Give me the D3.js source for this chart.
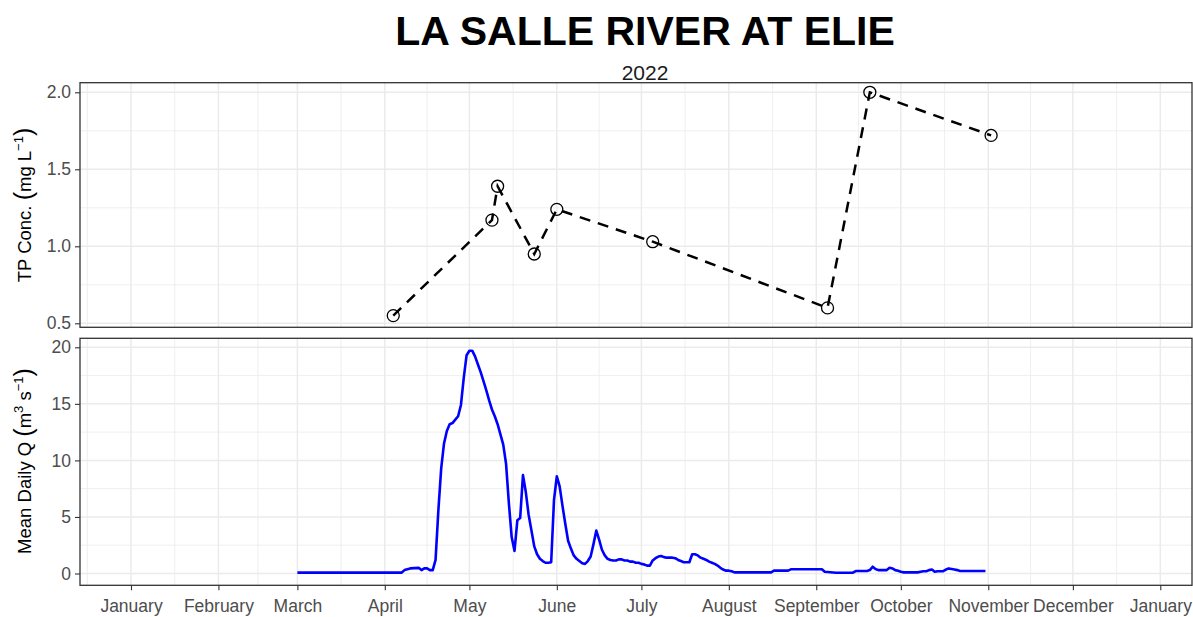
<!DOCTYPE html>
<html>
<head>
<meta charset="utf-8">
<script src="https://cdn.jsdelivr.net/npm/d3@7"></script>
<style>
  body { margin: 0; background: #fff; }
  svg { display: block; font-family: "Liberation Sans", Arial, sans-serif; }
</style>
</head>
<body>
<svg id="chart" width="1193" height="617"></svg>
<script>
// month breaks on the shared date axis
const monthBreaks = ['2022-01-01', '2022-02-01', '2022-03-01', '2022-04-01', '2022-05-01', '2022-06-01',
  '2022-07-01', '2022-08-01', '2022-09-01', '2022-10-01', '2022-11-01', '2022-12-01', '2023-01-01'];

// TP grab samples
const tpDates = ['2022-04-04', '2022-05-09', '2022-05-11', '2022-05-24', '2022-06-01',
  '2022-07-05', '2022-09-05', '2022-09-20', '2022-11-02'];
const tpConc = [0.55, 1.17, 1.39, 0.95, 1.24, 1.03, 0.60, 2.00, 1.72];
const tpTicks = [0.5, 1.0, 1.5, 2.0];
const tpMinor = [0.75, 1.25, 1.75];

// mean daily discharge
const flowDays = ['03-01', '04-07', '04-08', '04-10', '04-13', '04-14', '04-15', '04-16', '04-17', '04-18',
  '04-19', '04-20', '04-21', '04-22', '04-23', '04-24', '04-25', '04-26', '04-27', '04-28', '04-29', '04-30',
  '05-01', '05-02', '05-03', '05-04', '05-05', '05-06', '05-07', '05-08', '05-09', '05-10', '05-11', '05-12',
  '05-13', '05-14', '05-15', '05-16', '05-17', '05-18', '05-19', '05-20', '05-21', '05-22', '05-23', '05-24',
  '05-25', '05-26', '05-27', '05-28', '05-29', '05-30', '05-31', '06-01', '06-02', '06-03', '06-04', '06-05',
  '06-06', '06-07', '06-08', '06-09', '06-10', '06-11', '06-12', '06-13', '06-14', '06-15', '06-16', '06-17',
  '06-18', '06-19', '06-20', '06-21', '06-22', '06-23', '06-24', '06-25', '06-26', '06-27', '06-28', '06-29',
  '06-30', '07-01', '07-02', '07-03', '07-04', '07-05', '07-06', '07-07', '07-08', '07-09', '07-10', '07-11',
  '07-12', '07-13', '07-14', '07-15', '07-16', '07-17', '07-18', '07-19', '07-20', '07-21', '07-22', '07-23',
  '07-24', '07-25', '07-26', '07-27', '07-28', '07-29', '07-30', '07-31', '08-01', '08-02', '08-03', '08-16',
  '08-17', '08-22', '08-23', '09-03', '09-04', '09-08', '09-14', '09-15', '09-19', '09-20', '09-21', '09-22',
  '09-23', '09-26', '09-27', '09-28', '09-29', '09-30', '10-01', '10-02', '10-07', '10-08', '10-09', '10-10',
  '10-11', '10-12', '10-13', '10-14', '10-16', '10-17', '10-18', '10-19', '10-20', '10-21', '10-22', '10-31'];
const flowQ = [0.08, 0.08, 0.3, 0.45, 0.5, 0.3, 0.45, 0.45, 0.3, 0.3,
  1.2, 5.6, 9.3, 11.5, 12.6, 13.2, 13.3, 13.6, 13.9, 14.9, 17.3, 19.3,
  19.7, 19.7, 19.2, 18.5, 17.8, 17.0, 16.2, 15.3, 14.5, 13.9, 13.2, 12.3,
  11.4, 9.7, 6.2, 3.2, 2.0, 4.7, 4.9, 8.7, 7.2, 5.2, 3.8, 2.4,
  1.7, 1.3, 1.1, 0.95, 0.95, 1.0, 6.5, 8.6, 7.7, 6.0, 4.4, 2.9,
  2.2, 1.6, 1.3, 1.1, 0.9, 0.85, 1.1, 1.5, 2.6, 3.8, 3.0, 2.1,
  1.6, 1.3, 1.2, 1.15, 1.15, 1.25, 1.25, 1.15, 1.15, 1.05, 1.05, 0.95,
  0.95, 0.85, 0.8, 0.7, 0.7, 1.15, 1.35, 1.5, 1.55, 1.45, 1.4, 1.4,
  1.4, 1.35, 1.2, 1.1, 1.0, 1.0, 1.0, 1.7, 1.7, 1.6, 1.4, 1.3,
  1.2, 1.05, 0.95, 0.85, 0.7, 0.5, 0.35, 0.25, 0.25, 0.2, 0.1, 0.1,
  0.25, 0.25, 0.37, 0.37, 0.15, 0.07, 0.07, 0.22, 0.22, 0.3, 0.6, 0.4,
  0.3, 0.3, 0.5, 0.45, 0.3, 0.25, 0.15, 0.1, 0.1, 0.15, 0.2, 0.2,
  0.3, 0.35, 0.15, 0.2, 0.2, 0.35, 0.45, 0.4, 0.35, 0.3, 0.22, 0.22];
const qTicks = [0, 5, 10, 15, 20];
const qMinor = [2.5, 7.5, 12.5, 17.5];

const parse = d3.utcParse('%Y-%m-%d');
const tpData = tpDates.map((d, i) => ({ date: parse(d), value: tpConc[i] }));
const flowData = flowDays.map((d, i) => ({ date: parse('2022-' + d), value: flowQ[i] }));
const breaks = monthBreaks.map(parse);

// layout
const panelLeft = 80, panelRight = 1192;
const top1 = 82.7, bottom1 = 327.3;
const top2 = 338.3, bottom2 = 585.3;
const gridCol = '#EBEBEB', inkCol = '#333333', tickTextCol = '#4D4D4D';

const x = d3.scaleUtc().domain([breaks[0], breaks[breaks.length - 1]]).range([131, 1160.3]);
const yTP = d3.scaleLinear().domain([0.5, 2.0]).range([323.3, 92.3]);
const yQ = d3.scaleLinear().domain([0, 20]).range([573.5, 347.3]);

// minor breaks sit halfway between the monthly ones (incl. Dec 2021)
const allBreaks = [d3.utcMonth.offset(breaks[0], -1), ...breaks];
const minorX = d3.pairs(allBreaks).map(([a, b]) => (x(a) + x(b)) / 2);

const svg = d3.select('#chart');

// Title + subtitle
svg.append('text')
  .attr('x', 645).attr('y', 45)
  .attr('text-anchor', 'middle')
  .style('font-size', '41px').style('font-weight', 'bold')
  .text('LA SALLE RIVER AT ELIE');
svg.append('text')
  .attr('x', 645).attr('y', 79.5)
  .attr('text-anchor', 'middle')
  .style('font-size', '21px').attr('fill', '#1a1a1a')
  .text('2022');

function drawPanel(y, top, bottom, majors, minors) {
  const g = svg.append('g');
  // minor grid
  minors.forEach(v => g.append('line')
    .attr('x1', panelLeft).attr('x2', panelRight).attr('y1', y(v)).attr('y2', y(v))
    .attr('stroke', gridCol).attr('stroke-width', 0.8));
  minorX.filter(v => v > panelLeft && v < panelRight).forEach(v => g.append('line')
    .attr('x1', v).attr('x2', v).attr('y1', top).attr('y2', bottom)
    .attr('stroke', gridCol).attr('stroke-width', 0.8));
  // major grid
  majors.forEach(v => g.append('line')
    .attr('x1', panelLeft).attr('x2', panelRight).attr('y1', y(v)).attr('y2', y(v))
    .attr('stroke', gridCol).attr('stroke-width', 1.5));
  breaks.forEach(d => g.append('line')
    .attr('x1', x(d)).attr('x2', x(d)).attr('y1', top).attr('y2', bottom)
    .attr('stroke', gridCol).attr('stroke-width', 1.5));
  return g;
}

function styleAxis(g) {
  g.select('.domain').remove();
  g.selectAll('.tick line').attr('stroke', inkCol).attr('stroke-width', 1.1);
  g.selectAll('.tick text').attr('fill', tickTextCol).style('font-size', '17.5px')
    .style('font-family', '"Liberation Sans", Arial, sans-serif');
}

// ---- top panel: TP concentration ----
drawPanel(yTP, top1, bottom1, tpTicks, tpMinor);

const tpLine = d3.line().x(d => x(d.date)).y(d => yTP(d.value));
svg.append('path')
  .datum(tpData)
  .attr('fill', 'none')
  .attr('stroke', '#000')
  .attr('stroke-width', 2.5)
  .attr('stroke-dasharray', '11,8')
  .attr('d', tpLine);

svg.selectAll('.tp-pt')
  .data(tpData)
  .enter()
  .append('circle')
  .attr('class', 'tp-pt')
  .attr('cx', d => x(d.date))
  .attr('cy', d => yTP(d.value))
  .attr('r', 6)
  .attr('fill', 'none')
  .attr('stroke', '#000')
  .attr('stroke-width', 1.3);

svg.append('rect')
  .attr('x', panelLeft).attr('y', top1)
  .attr('width', panelRight - panelLeft).attr('height', bottom1 - top1)
  .attr('fill', 'none').attr('stroke', inkCol).attr('stroke-width', 1.3);

svg.append('g')
  .attr('transform', `translate(${panelLeft},0)`)
  .call(d3.axisLeft(yTP).tickValues(tpTicks).tickFormat(d3.format('.1f')).tickSize(5).tickPadding(4))
  .call(styleAxis);

// ---- bottom panel: discharge ----
drawPanel(yQ, top2, bottom2, qTicks, qMinor);

const qLine = d3.line().x(d => x(d.date)).y(d => yQ(d.value));
svg.append('path')
  .datum(flowData)
  .attr('fill', 'none')
  .attr('stroke', '#0000FF')
  .attr('stroke-width', 2.6)
  .attr('stroke-linejoin', 'round')
  .attr('d', qLine);

svg.append('rect')
  .attr('x', panelLeft).attr('y', top2)
  .attr('width', panelRight - panelLeft).attr('height', bottom2 - top2)
  .attr('fill', 'none').attr('stroke', inkCol).attr('stroke-width', 1.3);

svg.append('g')
  .attr('transform', `translate(${panelLeft},0)`)
  .call(d3.axisLeft(yQ).tickValues(qTicks).tickFormat(d3.format('d')).tickSize(5).tickPadding(4))
  .call(styleAxis);

svg.append('g')
  .attr('transform', `translate(0,${bottom2})`)
  .call(d3.axisBottom(x).tickValues(breaks).tickFormat(d3.utcFormat('%B')).tickSize(5).tickPadding(9))
  .call(styleAxis);

// ---- axis titles (plotmath style) ----
function yTitle(cx, cy, parts) {
  const t = svg.append('text')
    .attr('transform', `translate(${cx},${cy}) rotate(-90)`)
    .attr('text-anchor', 'middle')
    .style('font-size', '18.5px')
    .attr('fill', '#000');
  parts.forEach(p => {
    const s = t.append('tspan').text(p.text);
    if (p.size) s.style('font-size', p.size);
    if (p.dy) s.attr('dy', p.dy);
  });
}

yTitle(30.5, 205, [
  { text: 'TP Conc. ' },
  { text: '(', size: '25px', dy: 1 },
  { text: 'mg L', dy: -1 },
  { text: '\u22121', size: '13px', dy: -8 },
  { text: ')', size: '25px', dy: 9 }
]);

yTitle(30.5, 461, [
  { text: 'Mean Daily Q ' },
  { text: '(', size: '25px', dy: 1 },
  { text: 'm', dy: -1 },
  { text: '3', size: '13px', dy: -8 },
  { text: ' s', dy: 8 },
  { text: '\u22121', size: '13px', dy: -8 },
  { text: ')', size: '25px', dy: 9 }
]);
</script>
</body>
</html>
